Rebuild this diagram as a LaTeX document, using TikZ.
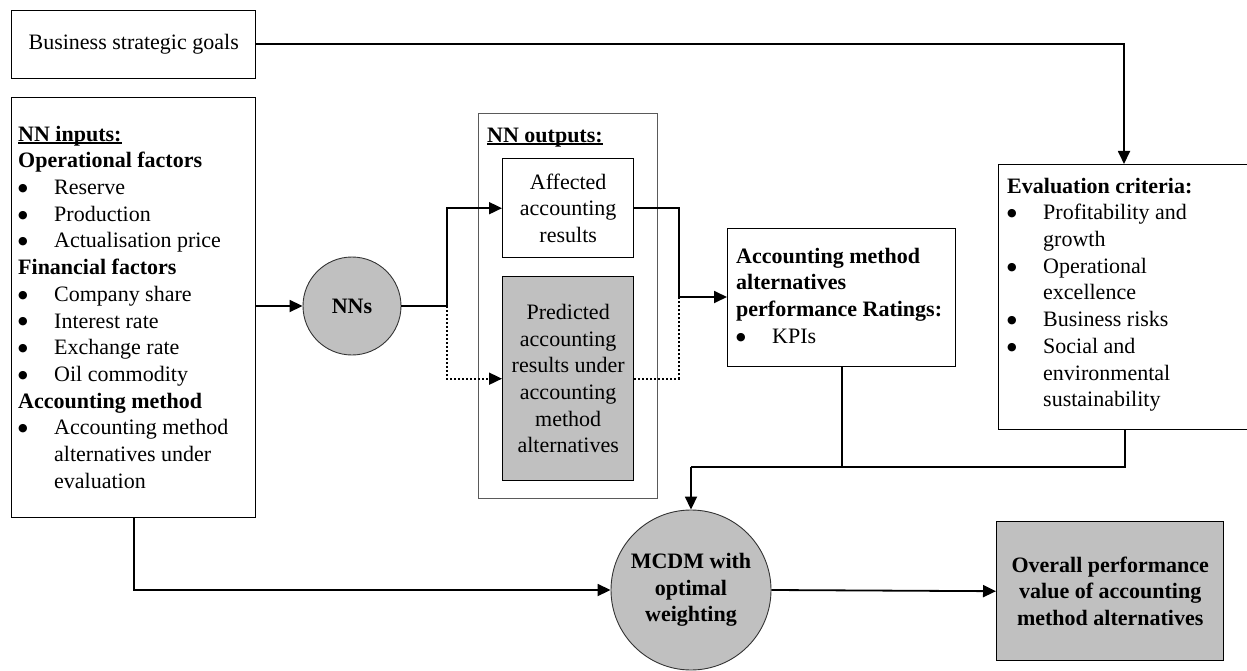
\documentclass[tikz,border=0pt]{standalone}
\usepackage{fontspec}
\setmainfont{Liberation Serif}
\newfontfamily\symfont{DejaVu Sans}
\usetikzlibrary{arrows.meta}

\definecolor{shade}{RGB}{192,192,192}
\definecolor{frame}{RGB}{90,90,90}

% bullet list helpers
\newcommand{\bdot}{\raisebox{3.2pt}{\fontsize{11}{11}\symfont ●}}
\newcommand{\bitem}[1]{\makebox[36pt][l]{\bdot}#1}
\newcommand{\bcont}[1]{\hspace*{36pt}#1}
% underline drawn close to the baseline
\newsavebox{\ulbox}
\newcommand{\uln}[1]{\sbox{\ulbox}{#1}\rlap{\rule[-2.6pt]{\wd\ulbox}{1.3pt}}\usebox{\ulbox}}

\begin{document}
\begin{tikzpicture}[x=1pt,y=-1pt,
  every node/.style={font=\fontsize{22}{26.7}\selectfont},
  box/.style={draw, line width=1.4pt, inner sep=0pt, anchor=north west, align=center},
  greybox/.style={box, fill=shade},
  outerbox/.style={draw=frame, line width=1.1pt, inner sep=0pt, anchor=north west},
  disc/.style={circle, draw=black!80, line width=0.9pt, fill=shade, inner sep=0pt, align=center, font=\fontsize{22}{26.7}\selectfont\bfseries},
  txt/.style={inner sep=0pt, anchor=north west, align=left},
  conn/.style={line width=1.8pt},
  arr/.style={conn, -{Triangle[length=13pt,width=12pt]}},
  dotline/.style={line width=1.6pt, dash pattern=on 2pt off 2pt}
]
\clip (0,0) rectangle (1247,671);
\useasboundingbox (0,0) rectangle (1247,671);

% boxes
\node[box, minimum width=244pt, minimum height=68pt] (goals) at (11,10) {Business strategic goals};
\node[box, minimum width=244pt, minimum height=420pt] (inputs) at (11,97) {};
\node[outerbox, minimum width=179pt, minimum height=385pt] (outputs) at (478,113) {};
\node[box, minimum width=131pt, minimum height=99pt] (affected) at (502,158) {Affected\\accounting\\results};
\node[greybox, minimum width=131pt, minimum height=204pt] (predicted) at (502,276) {Predicted\\accounting\\results under\\accounting\\method\\alternatives};
\node[box, minimum width=228pt, minimum height=138pt] (acct) at (727,228) {};
\node[box, minimum width=252pt, minimum height=265pt] (eval) at (998,164) {};
\node[greybox, minimum width=227pt, minimum height=139pt, font=\fontsize{22}{26.7}\selectfont\bfseries] (overall) at (996,521) {Overall performance\\value of accounting\\method alternatives};

% processing circles
\node[disc, minimum size=98pt] (nns) at (352,306) {NNs};
\node[disc, minimum size=160pt] (mcdm) at (691,590) {MCDM with\\optimal\\weighting};

% box contents
\node[txt] (inputstxt) at (18,122.3) {\strut\uln{\textbf{NN inputs:}}\\
\textbf{Operational factors}\\
\bitem{Reserve}\\
\bitem{Production}\\
\bitem{Actualisation price}\\
\textbf{Financial factors}\\
\bitem{Company share}\\
\bitem{Interest rate}\\
\bitem{Exchange rate}\\
\bitem{Oil commodity}\\
\textbf{Accounting method}\\
\bitem{Accounting method}\\
\bcont{alternatives under}\\
\bcont{evaluation}};
\node[txt] (outputstxt) at (487,123.3) {\strut\uln{\textbf{NN outputs:}}};
\node[txt] (accttxt) at (736,244.3) {\strut\textbf{Accounting method}\\
\textbf{alternatives}\\
\textbf{performance Ratings:}\\
\bitem{KPIs}};
\node[txt] (evaltxt) at (1007,174.3) {\strut\textbf{Evaluation criteria:}\\
\bitem{Profitability and}\\
\bcont{growth}\\
\bitem{Operational}\\
\bcont{excellence}\\
\bitem{Business risks}\\
\bitem{Social and}\\
\bcont{environmental}\\
\bcont{sustainability}};

% junction points
\coordinate (goalturn) at (1124,44);
\coordinate (split) at (447,306);
\coordinate (join) at (679,297);
\coordinate (merge) at (691,467);

% connectors
\draw[arr] (goals.east |- goalturn) -- (goalturn) -- (goalturn |- eval.north);
\draw[arr] (nns.west -| inputs.east) -- (nns.west);
\draw[conn] (nns.east) -- (split);
\draw[arr] (split) |- (affected.west);
\draw[dotline] (split) -- (split |- predicted.west) -- ([xshift=-12pt]predicted.west);
\draw[arr] ([xshift=-13pt]predicted.west) -- (predicted.west);
\draw[conn] (affected.east) -| (join);
\draw[arr] (join) -- (join -| acct.west);
\draw[dotline] (predicted.east) -| (join);
\draw[conn] (acct.south) -- (acct.south |- merge);
\draw[conn] (eval.south) |- (merge);
\draw[arr] (merge) -- (mcdm.north);
\draw[arr] (inputs.south) |- (mcdm.west);
\draw[arr] (mcdm.east) -- (overall.west);
\end{tikzpicture}
\end{document}
